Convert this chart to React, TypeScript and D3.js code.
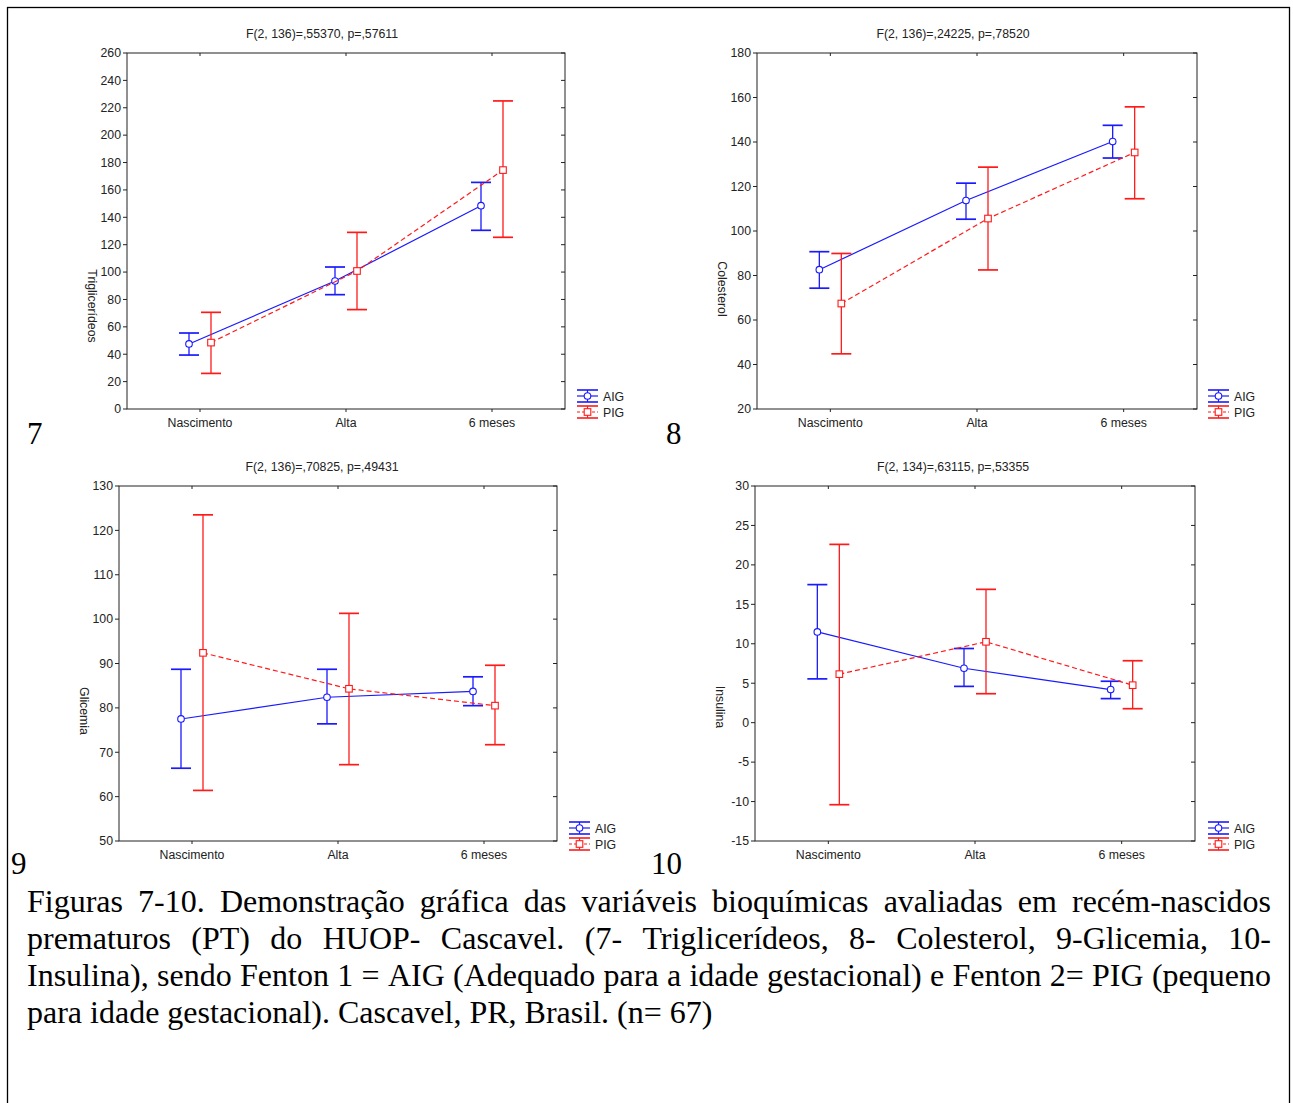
import React, { useEffect, useRef } from "react";
import * as d3 from "d3";

const categories = ["Nascimento", "Alta", "6 meses"];
const seriesNames = ["AIG", "PIG"];

// Triglicerídeos
const trigAIGMean = [47.5, 93.5, 148.5];
const trigAIGLow = [39.4, 83.5, 130.5];
const trigAIGHigh = [55.5, 103.7, 165.5];
const trigPIGMean = [48.5, 100.8, 174.5];
const trigPIGLow = [26, 72.6, 125.4];
const trigPIGHigh = [70.6, 129, 225];
const trigTicks = d3.range(0, 261, 20);

// Colesterol
const colAIGMean = [82.6, 113.7, 140.2];
const colAIGLow = [74.3, 105.3, 132.8];
const colAIGHigh = [90.7, 121.5, 147.5];
const colPIGMean = [67.4, 105.6, 135.3];
const colPIGLow = [44.8, 82.5, 114.5];
const colPIGHigh = [89.9, 128.7, 155.8];
const colTicks = d3.range(20, 181, 20);

// Glicemia
const gliAIGMean = [77.5, 82.4, 83.7];
const gliAIGLow = [66.4, 76.4, 80.5];
const gliAIGHigh = [88.7, 88.7, 87];
const gliPIGMean = [92.4, 84.3, 80.5];
const gliPIGLow = [61.4, 67.2, 71.7];
const gliPIGHigh = [123.5, 101.3, 89.6];
const gliTicks = d3.range(50, 131, 10);

// Insulina
const insAIGMean = [11.5, 6.9, 4.2];
const insAIGLow = [5.55, 4.6, 3.05];
const insAIGHigh = [17.5, 9.4, 5.25];
const insPIGMean = [6.15, 10.25, 4.75];
const insPIGLow = [-10.4, 3.67, 1.77];
const insPIGHigh = [22.6, 16.9, 7.85];
const insTicks = d3.range(-15, 31, 5);

const titles = [
  "F(2, 136)=,55370, p=,57611",
  "F(2, 136)=,24225, p=,78520",
  "F(2, 136)=,70825, p=,49431",
  "F(2, 134)=,63115, p=,53355",
];
const yLabels = ["Triglicerídeos", "Colesterol", "Glicemia", "Insulina"];
const panelNumbers = ["7", "8", "9", "10"];

const captionLines = [
  "Figuras 7-10. Demonstração gráfica das variáveis bioquímicas avaliadas em recém-nascidos",
  "prematuros (PT) do HUOP- Cascavel. (7- Triglicerídeos, 8- Colesterol, 9-Glicemia, 10-",
  "Insulina), sendo Fenton 1 = AIG (Adequado para a idade gestacional) e Fenton 2= PIG (pequeno",
  "para idade gestacional). Cascavel, PR, Brasil. (n= 67)",
];

const BLUE = "#1a1aff";
const RED = "#ff1a1a";
const AXIS = "#222";
const SANS = "'Liberation Sans', Arial, sans-serif";
const SERIF = "'Liberation Serif', 'Times New Roman', serif";
const FS = 12.3;

type PanelProps = {
  left: number;
  right: number;
  top: number;
  bottom: number;
  ticks: number[];
  title: string;
  titleX: number;
  yLabel: string;
  yLabelCenter: number;
  aig: [number[], number[], number[]];
  pig: [number[], number[], number[]];
  legendX: number;
};

function Panel(p: PanelProps) {
  const x = d3.scaleBand<string>().domain(categories).range([p.left, p.right]).padding(0);
  const cx = (c: string) => (x(c) as number) + x.bandwidth() / 2;
  const y = d3
    .scaleLinear()
    .domain([p.ticks[0], p.ticks[p.ticks.length - 1]])
    .range([p.bottom, p.top]);
  const off = 11;
  const cap = 10;
  const line = d3
    .line<[number, number]>()
    .x((d) => d[0])
    .y((d) => d[1]);

  const series = [
    { name: seriesNames[0], vals: p.aig, dx: -off, color: BLUE, dash: undefined as string | undefined, marker: "circle" },
    { name: seriesNames[1], vals: p.pig, dx: off, color: RED, dash: "5,3", marker: "square" },
  ];

  return (
    <g>
      <text x={p.titleX} y={p.top - 15} textAnchor="middle" fontFamily={SANS} fontSize={FS} fill={AXIS}>
        {p.title}
      </text>
      <rect x={p.left} y={p.top} width={p.right - p.left} height={p.bottom - p.top} fill="none" stroke={AXIS} strokeWidth={1} />
      {p.ticks.map((t) => (
        <g key={t}>
          <line x1={p.left - 4} x2={p.left} y1={y(t)} y2={y(t)} stroke={AXIS} />
          <line x1={p.right - 4} x2={p.right} y1={y(t)} y2={y(t)} stroke={AXIS} />
          <text x={p.left - 6} y={y(t) + 4.3} textAnchor="end" fontFamily={SANS} fontSize={FS} fill={AXIS}>
            {t}
          </text>
        </g>
      ))}
      {categories.map((c) => (
        <g key={c}>
          <line x1={cx(c)} x2={cx(c)} y1={p.bottom} y2={p.bottom + 3} stroke={AXIS} />
          <line x1={cx(c)} x2={cx(c)} y1={p.top} y2={p.top + 3} stroke={AXIS} />
          <text x={cx(c)} y={p.bottom + 18} textAnchor="middle" fontFamily={SANS} fontSize={FS} fill={AXIS}>
            {c}
          </text>
        </g>
      ))}
      <text
        transform={`translate(${p.left - 39},${p.yLabelCenter}) rotate(90)`}
        textAnchor="middle"
        fontFamily={SANS}
        fontSize={FS}
        fill={AXIS}
      >
        {p.yLabel}
      </text>
      {series.map((s) => {
        const [mean, lo, hi] = s.vals;
        const pts: [number, number][] = categories.map((c, i) => [cx(c) + s.dx, y(mean[i])]);
        return (
          <g key={s.name}>
            {categories.map((c, i) => {
              const xx = cx(c) + s.dx;
              return (
                <g key={c}>
                  <line x1={xx} x2={xx} y1={y(lo[i])} y2={y(hi[i])} stroke={s.color} strokeWidth={1.3} />
                  <line x1={xx - cap} x2={xx + cap} y1={y(lo[i])} y2={y(lo[i])} stroke={s.color} strokeWidth={1.7} />
                  <line x1={xx - cap} x2={xx + cap} y1={y(hi[i])} y2={y(hi[i])} stroke={s.color} strokeWidth={1.7} />
                </g>
              );
            })}
            <path d={line(pts) as string} fill="none" stroke={s.color} strokeWidth={1.2} strokeDasharray={s.dash} />
            {pts.map((pt, i) =>
              s.marker === "circle" ? (
                <circle key={i} cx={pt[0]} cy={pt[1]} r={3.3} fill="white" stroke={s.color} strokeWidth={1.1} />
              ) : (
                <rect key={i} x={pt[0] - 3.3} y={pt[1] - 3.3} width={6.6} height={6.6} fill="white" stroke={s.color} strokeWidth={1.1} />
              )
            )}
          </g>
        );
      })}
      {series.map((s, i) => {
        const ly = p.bottom - 13 + i * 16;
        const lx = p.legendX;
        return (
          <g key={s.name}>
            <line x1={lx} x2={lx + 21} y1={ly - 6} y2={ly - 6} stroke={s.color} strokeWidth={1.6} />
            <line x1={lx} x2={lx + 21} y1={ly + 6} y2={ly + 6} stroke={s.color} strokeWidth={1.6} />
            <line x1={lx + 10.5} x2={lx + 10.5} y1={ly - 6} y2={ly + 6} stroke={s.color} strokeWidth={1.2} />
            <line x1={lx} x2={lx + 21} y1={ly} y2={ly} stroke={s.color} strokeWidth={1.2} strokeDasharray={s.dash ? "3,2" : undefined} />
            {s.marker === "circle" ? (
              <circle cx={lx + 10.5} cy={ly} r={3.3} fill="white" stroke={s.color} strokeWidth={1.1} />
            ) : (
              <rect x={lx + 7.2} y={ly - 3.3} width={6.6} height={6.6} fill="white" stroke={s.color} strokeWidth={1.1} />
            )}
            <text x={lx + 26} y={ly + 4.5} fontFamily={SANS} fontSize={FS} fill={AXIS}>
              {s.name}
            </text>
          </g>
        );
      })}
    </g>
  );
}

function Caption() {
  const ref = useRef<SVGGElement>(null);
  useEffect(() => {
    const g = d3.select(ref.current);
    g.selectAll("*").remove();
    const x0 = 27;
    const x1 = 1271;
    captionLines.forEach((ln, li) => {
      const yy = 912 + li * 37;
      const words = ln.split(" ");
      const nodes = words.map((w) =>
        g
          .append("text")
          .attr("y", yy)
          .attr("font-family", SERIF)
          .attr("font-size", 32)
          .attr("fill", "#000")
          .text(w)
      );
      const widths = nodes.map((n) => (n.node() as SVGTextElement).getComputedTextLength());
      const total = d3.sum(widths);
      const justify = li < captionLines.length - 1;
      const space = justify ? (x1 - x0 - total) / (words.length - 1) : 8;
      let cur = x0;
      nodes.forEach((n, i) => {
        n.attr("x", cur);
        cur += widths[i] + space;
      });
    });
  }, []);
  return <g ref={ref} />;
}

export default function App() {
  return (
    <svg width={1293} height={1103} style={{ position: "absolute", left: 0, top: 0, background: "white" }}>
      <rect x={0} y={0} width={1293} height={1103} fill="white" />
      <rect x={7.5} y={7.5} width={1282} height={1110} fill="none" stroke="#000" strokeWidth={1.3} />
      <Panel
        left={127} right={565} top={53} bottom={409}
        ticks={trigTicks} title={titles[0]} titleX={322} yLabel={yLabels[0]} yLabelCenter={306}
        aig={[trigAIGMean, trigAIGLow, trigAIGHigh]} pig={[trigPIGMean, trigPIGLow, trigPIGHigh]}
        legendX={577}
      />
      <Panel
        left={757} right={1197} top={53} bottom={409}
        ticks={colTicks} title={titles[1]} titleX={953} yLabel={yLabels[1]} yLabelCenter={289}
        aig={[colAIGMean, colAIGLow, colAIGHigh]} pig={[colPIGMean, colPIGLow, colPIGHigh]}
        legendX={1208}
      />
      <Panel
        left={119} right={557} top={486} bottom={841}
        ticks={gliTicks} title={titles[2]} titleX={322} yLabel={yLabels[2]} yLabelCenter={711}
        aig={[gliAIGMean, gliAIGLow, gliAIGHigh]} pig={[gliPIGMean, gliPIGLow, gliPIGHigh]}
        legendX={569}
      />
      <Panel
        left={755} right={1195} top={486} bottom={841}
        ticks={insTicks} title={titles[3]} titleX={953} yLabel={yLabels[3]} yLabelCenter={707}
        aig={[insAIGMean, insAIGLow, insAIGHigh]} pig={[insPIGMean, insPIGLow, insPIGHigh]}
        legendX={1208}
      />
      <text x={27} y={444} fontFamily={SERIF} fontSize={31} fill="#000">{panelNumbers[0]}</text>
      <text x={666} y={444} fontFamily={SERIF} fontSize={31} fill="#000">{panelNumbers[1]}</text>
      <text x={11} y={874} fontFamily={SERIF} fontSize={31} fill="#000">{panelNumbers[2]}</text>
      <text x={651} y={874} fontFamily={SERIF} fontSize={31} fill="#000">{panelNumbers[3]}</text>
      <Caption />
    </svg>
  );
}
